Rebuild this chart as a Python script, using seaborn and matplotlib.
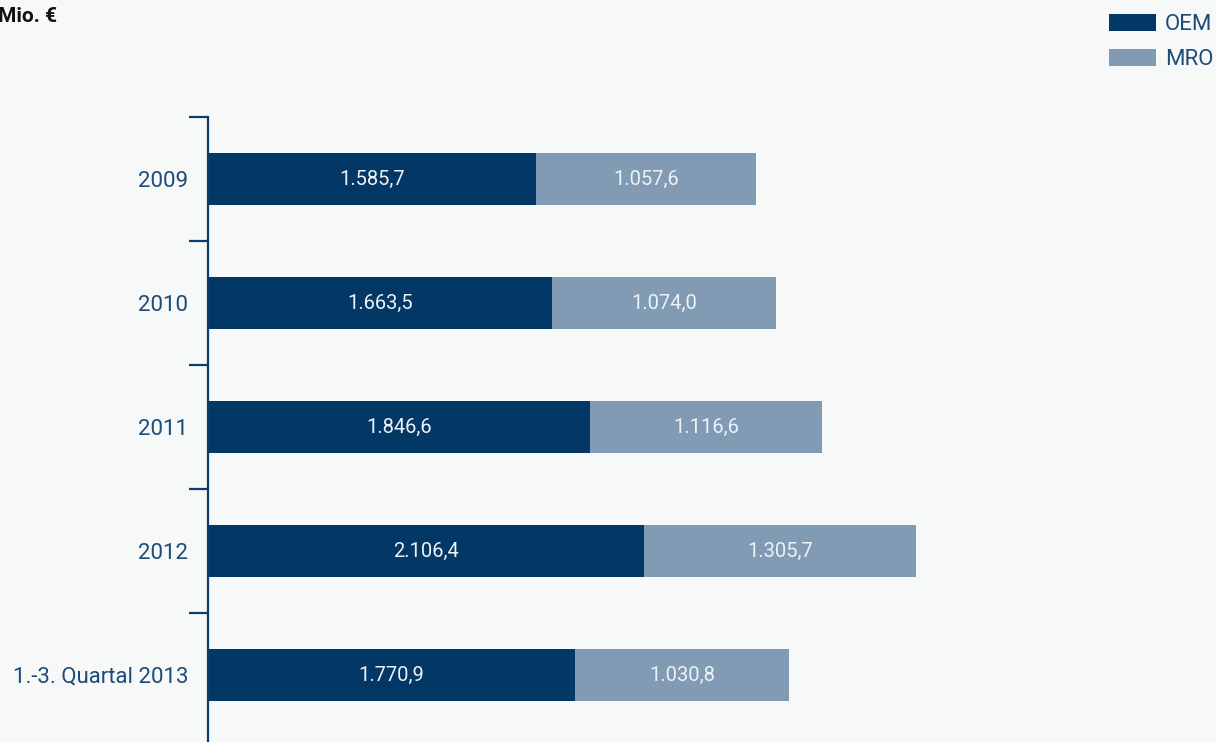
import matplotlib
matplotlib.use("Agg")
import matplotlib.pyplot as plt
import seaborn as sns
import pandas as pd
from matplotlib.patches import Patch

categories = ["2009", "2010", "2011", "2012", "1.-3. Quartal 2013"]
oem = [1585.7, 1663.5, 1846.6, 2106.4, 1770.9]
mro = [1057.6, 1074.0, 1116.6, 1305.7, 1030.8]
series_names = ["OEM", "MRO"]
unit_label = "Mio. €"

C_OEM = "#023766"
C_MRO = "#819bb5"
C_TEXT = "#1d4b7a"
C_AXIS = "#0e3d6b"
BG = "#f7f9f9"

sns.set_style("white")
plt.rcParams["font.family"] = ["Roboto", "DejaVu Sans"]

df = pd.DataFrame({"cat": categories, "OEM": oem, "MRO": mro})
df["total"] = df["OEM"] + df["MRO"]

W, H = 1216, 742
fig = plt.figure(figsize=(W / 100, H / 100), dpi=100, facecolor=BG)
ax = fig.add_axes([207 / W, 0, 893 / W, 625 / H])
ax.set_facecolor(BG)

sns.barplot(data=df, y="cat", x="total", order=categories, color=C_MRO,
            width=0.42, saturation=1, ax=ax, orient="h", linewidth=0, edgecolor="none")
sns.barplot(data=df, y="cat", x="OEM", order=categories, color=C_OEM,
            width=0.42, saturation=1, ax=ax, orient="h", linewidth=0, edgecolor="none")
if ax.get_legend() is not None:
    ax.get_legend().remove()

def de(v):
    return f"{v:,.1f}".replace(",", "X").replace(".", ",").replace("X", ".")

for i, (o, m) in enumerate(zip(oem, mro)):
    ax.text(o / 2, i, de(o), ha="center", va="center", color="#eef2f7", fontsize=14.5)
    ax.text(o + m / 2, i, de(m), ha="center", va="center", color="#eef2f7", fontsize=14.5)

ax.set_xlim(0, 4300)
ax.set_ylim(4.54, -0.5)
ax.set_xlabel("")
ax.set_ylabel("")
ax.set_xticks([])
for s in ["top", "right", "bottom"]:
    ax.spines[s].set_visible(False)
ax.spines["left"].set_color(C_AXIS)
ax.spines["left"].set_linewidth(1.6)
ax.spines["left"].set_position(("outward", -1))

ax.set_yticks(range(len(categories)))
ax.set_yticklabels(categories)
ax.tick_params(axis="y", which="major", left=False, length=0, pad=14.5, labelsize=16, labelcolor=C_TEXT)
ax.set_yticks([i - 0.5 for i in range(len(categories))], minor=True)
ax.tick_params(axis="y", which="minor", left=True, length=14, width=1.6, color=C_AXIS)

fig.text(-2 / W, 1 - 16 / H, unit_label, ha="left", va="center", fontsize=15,
         fontweight="bold", color="#111111")

handles = [Patch(facecolor=C_OEM, edgecolor="none"), Patch(facecolor=C_MRO, edgecolor="none")]
fig.legend(handles, series_names, loc="upper right", bbox_to_anchor=(1.0 + 4 / W, 1.0 - 7 / H),
           frameon=False, fontsize=16, labelcolor=C_TEXT, handlelength=2.1,
           handleheight=0.8, handletextpad=0.42, labelspacing=0.62,
           borderaxespad=0.0, borderpad=0.3)

fig.savefig("out.png", dpi=100, facecolor=BG)
